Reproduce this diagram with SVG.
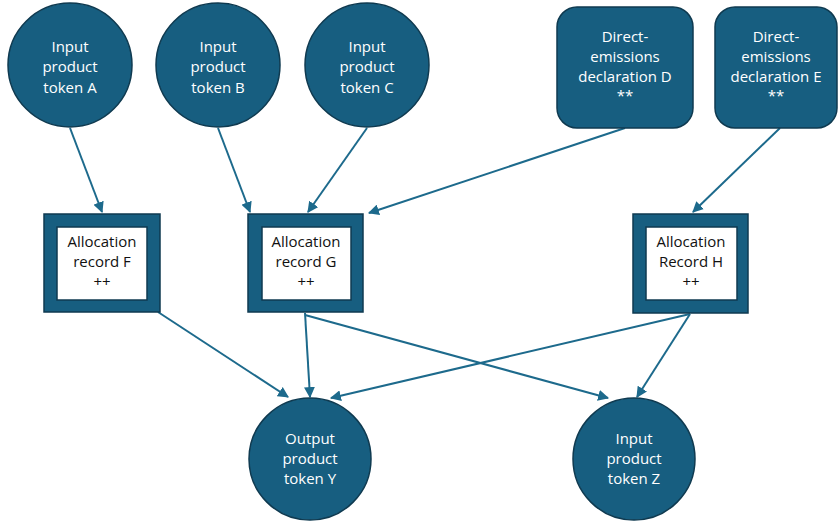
<svg xmlns="http://www.w3.org/2000/svg" width="840" height="521" viewBox="0 0 840 521">
<style>
.n{fill:#175e80;stroke:#0f3a50;stroke-width:1.5}
.w{font-family:"Open Sans","Liberation Sans",sans-serif;font-size:15px;fill:#fff;text-anchor:middle}
.b{font-family:"Open Sans","Liberation Sans",sans-serif;font-size:15px;fill:#111;text-anchor:middle}
.o{fill:#175e80;stroke:#0f3a50;stroke-width:1.5}
.i{fill:#fff;stroke:#0f3a50;stroke-width:1.5}
.c{stroke:#1d6a8c;stroke-width:2;fill:none;marker-end:url(#ah)}
</style>
<defs>
<marker id="ah" viewBox="0 0 10 10" refX="9" refY="5" markerWidth="5.5" markerHeight="5.5" orient="auto" markerUnits="strokeWidth">
<path d="M0,0 L10,5 L0,10 z" fill="#1d6a8c"/>
</marker>
</defs>
<rect width="840" height="521" fill="#fff"/>
<g id="connectors">
<line class="c" x1="70" y1="128" x2="102" y2="212"/>
<line class="c" x1="218" y1="128" x2="250" y2="212"/>
<line class="c" x1="367" y1="128" x2="308" y2="212"/>
<line class="c" x1="625" y1="128" x2="369" y2="213"/>
<line class="c" x1="780" y1="128" x2="693" y2="212"/>
<line class="c" x1="158" y1="312" x2="288" y2="397"/>
<line class="c" x1="305" y1="313" x2="310" y2="397"/>
<line class="c" x1="305" y1="315" x2="608" y2="398"/>
<line class="c" x1="690" y1="314" x2="331" y2="398"/>
<line class="c" x1="690" y1="314" x2="637" y2="397"/>
</g>
<g id="nodeA"><circle class="n" cx="70" cy="65" r="62"/>
<text class="w" x="70" y="52">Input</text><text class="w" x="70" y="72">product</text><text class="w" x="70" y="93">token A</text></g>
<g id="nodeB"><circle class="n" cx="218" cy="65" r="62"/>
<text class="w" x="218" y="52">Input</text><text class="w" x="218" y="72">product</text><text class="w" x="218" y="93">token B</text></g>
<g id="nodeC"><circle class="n" cx="367" cy="65" r="62"/>
<text class="w" x="367" y="52">Input</text><text class="w" x="367" y="72">product</text><text class="w" x="367" y="93">token C</text></g>
<g id="nodeD"><rect class="n" x="557" y="7" width="136" height="121" rx="20"/>
<text class="w" x="625" y="42">Direct-</text><text class="w" x="625" y="62">emissions</text><text class="w" x="625" y="82">declaration D</text><text class="w" x="625" y="101">**</text></g>
<g id="nodeE"><rect class="n" x="715" y="7" width="122" height="121" rx="20"/>
<text class="w" x="776" y="42">Direct-</text><text class="w" x="776" y="62">emissions</text><text class="w" x="776" y="82">declaration E</text><text class="w" x="776" y="101">**</text></g>
<g id="nodeF"><rect class="o" x="44" y="214" width="116" height="98"/><rect class="i" x="57" y="227" width="90" height="73"/>
<text class="b" x="102" y="247">Allocation</text><text class="b" x="102" y="267">record F</text><text class="b" x="102" y="287">++</text></g>
<g id="nodeG"><rect class="o" x="248" y="214" width="115" height="98"/><rect class="i" x="262" y="227" width="89" height="73"/>
<text class="b" x="306" y="247">Allocation</text><text class="b" x="306" y="267">record G</text><text class="b" x="306" y="287">++</text></g>
<g id="nodeH"><rect class="o" x="633" y="214" width="115" height="99"/><rect class="i" x="646" y="227" width="91" height="73"/>
<text class="b" x="691" y="247">Allocation</text><text class="b" x="691" y="267">Record H</text><text class="b" x="691" y="287">++</text></g>
<g id="nodeY"><circle class="n" cx="310" cy="459" r="61"/>
<text class="w" x="310" y="444">Output</text><text class="w" x="310" y="464">product</text><text class="w" x="310" y="484">token Y</text></g>
<g id="nodeZ"><circle class="n" cx="634" cy="459" r="61"/>
<text class="w" x="634" y="444">Input</text><text class="w" x="634" y="464">product</text><text class="w" x="634" y="484">token Z</text></g>
</svg>
